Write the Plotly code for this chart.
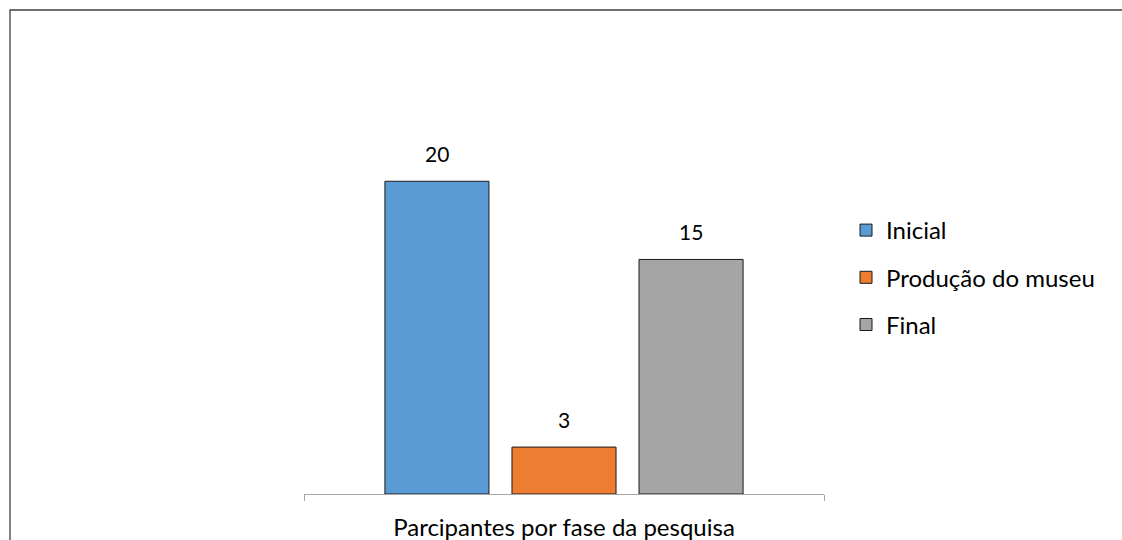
import plotly.graph_objects as go

category = ["Parcipantes por fase da pesquisa"]
series_names = ["Inicial", "Produção do museu", "Final"]
series_values = [20, 3, 15]
series_colors = ["#5B9BD5", "#ED7D31", "#A5A5A5"]

FONT = "Lato"
W, H = 1122, 540
ML, MR, MT, MB = 304, 298, 150, 46
bargap = 0.267
bargroupgap = 0.181

fig = go.Figure()
for i, (name, val, col) in enumerate(zip(series_names, series_values, series_colors)):
    fig.add_trace(go.Bar(
        x=category, y=[val], name=name, legendgroup=name,
        marker=dict(color=col, line=dict(color="#1a1a1a", width=1)),
    ))

# value labels above bars
n = len(series_names)
slot = (1 - bargap) / n
for i, val in enumerate(series_values):
    fig.add_annotation(
        x=(i - (n - 1) / 2) * slot, y=val, xref="x", yref="y",
        text=str(val), showarrow=False, yanchor="bottom", yshift=13,
        font=dict(family=FONT, size=21, color="#000000"),
    )

pw = W - ML - MR
ph = H - MT - MB
def px_x(p):
    return (p - ML) / pw
def px_y(p):
    return (H - MB - p) / ph

fig.add_shape(type="rect", xref="paper", yref="paper",
              x0=px_x(10), x1=px_x(1135), y0=px_y(555), y1=px_y(10),
              line=dict(color="#404040", width=1.3), fillcolor="rgba(0,0,0,0)")

fig.update_layout(
    width=W, height=H,
    margin=dict(l=ML, r=MR, t=MT, b=MB, autoexpand=False),
    paper_bgcolor="white", plot_bgcolor="white",
    barmode="group", bargap=bargap, bargroupgap=bargroupgap,
    font=dict(family=FONT, size=24, color="#000000"),
    showlegend=True,
    legend=dict(x=px_x(846), xanchor="left", y=px_y(208), yanchor="top",
                yref="paper", tracegroupgap=13, font=dict(size=24),
                itemwidth=30),
    xaxis=dict(type="category", showline=True, linecolor="#A6A6A6", linewidth=1.3,
               ticks="outside", tickson="boundaries", ticklen=6, tickcolor="#A6A6A6",
               tickwidth=1.3, ticklabelstandoff=12, automargin=False,
               tickfont=dict(family=FONT, size=24, color="#000000"), showgrid=False),
    yaxis=dict(range=[0, 22], visible=False, showgrid=False, zeroline=False,
               automargin=False),
)

fig.write_html("out.html")
